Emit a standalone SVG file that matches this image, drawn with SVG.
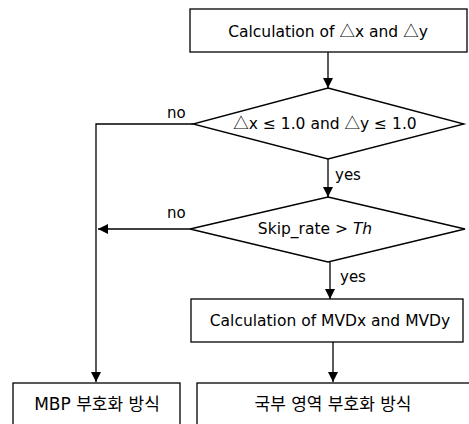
<svg xmlns="http://www.w3.org/2000/svg" width="469" height="424" viewBox="0 0 469 424">
<defs>
<marker id="ah" viewBox="0 0 10 10" refX="10" refY="5" markerWidth="10" markerHeight="10" markerUnits="userSpaceOnUse" orient="auto">
<path d="M0,0 L10,5 L0,10 z" fill="#000"/>
</marker>
<style>
.s{fill:#fff;stroke:#000;stroke-width:1.3}
.t{font-family:"DejaVu Sans","Noto Sans CJK KR",sans-serif;font-size:15.5px;fill:#000;text-anchor:middle}
.k{font-family:"DejaVu Sans","Noto Sans CJK KR",sans-serif;font-size:17px;fill:#000;text-anchor:middle}
.l{font-family:"DejaVu Sans","Noto Sans CJK KR",sans-serif;font-size:15px;fill:#000}
.d{font-family:"Noto Sans CJK KR",sans-serif}
.c{fill:none;stroke:#000;stroke-width:1.3}
</style>
</defs>
<rect width="469" height="424" fill="#fff"/>
<g id="connectors">
<line class="c" x1="328" y1="52" x2="328" y2="88" marker-end="url(#ah)"/>
<polyline class="c" points="193,124 96,124 96,382" marker-end="url(#ah)"/>
<line class="c" x1="328" y1="159" x2="328" y2="197" marker-end="url(#ah)"/>
<line class="c" x1="190" y1="229" x2="98" y2="229" marker-end="url(#ah)"/>
<line class="c" x1="330" y1="262" x2="330" y2="299" marker-end="url(#ah)"/>
<line class="c" x1="333" y1="342" x2="333" y2="382" marker-end="url(#ah)"/>
<text class="l" x="167" y="118">no</text>
<text class="l" x="335" y="180">yes</text>
<text class="l" x="167" y="218">no</text>
<text class="l" x="340" y="282">yes</text>
</g>
<g id="calc_dxdy">
<rect class="s" x="190" y="9" width="277" height="43"/>
<text class="t" x="328" y="37">Calculation of <tspan class="d">△</tspan>x and <tspan class="d">△</tspan>y</text>
</g>
<g id="cond1">
<polygon class="s" points="328,88 464,124 328,159 193,124"/>
<text class="t" x="325" y="129"><tspan class="d">△</tspan>x ≤ 1.0 and <tspan class="d">△</tspan>y ≤ 1.0</text>
</g>
<g id="cond2">
<polygon class="s" points="328,197 465,229 328,262 190,229"/>
<text class="t" x="315" y="234">Skip_rate &gt; <tspan font-style="italic">Th</tspan></text>
</g>
<g id="calc_mvd">
<rect class="s" x="191" y="299" width="272" height="43"/>
<text class="t" x="330" y="326">Calculation of MVDx and MVDy</text>
</g>
<g id="mbp">
<rect class="s" x="13" y="383" width="167" height="50"/>
<text class="k" x="97" y="410">MBP 부호화 방식</text>
</g>
<g id="local">
<rect class="s" x="197" y="383" width="280" height="50"/>
<text class="k" x="333" y="410">국부 영역 부호화 방식</text>
</g>
</svg>
